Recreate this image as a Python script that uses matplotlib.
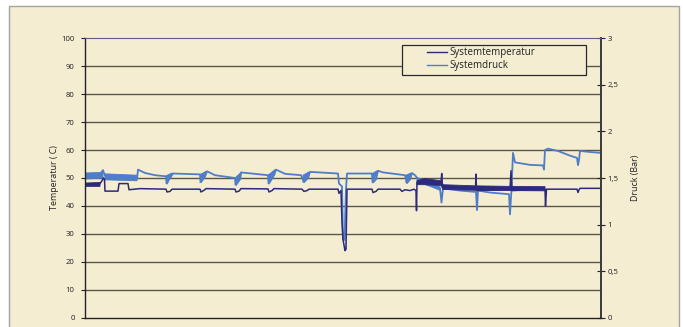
import numpy as np
import matplotlib
matplotlib.use("Agg")
import matplotlib.pyplot as plt
from matplotlib.patches import Rectangle

nan = np.nan

# Messzeit (laufende Messpunkte)
zeit_temp = [0, 14, 15, 17, 18.5, 19.5, 20, 33, 34, 43, 44, 55, 81, 82, 85, 87,
             115, 116, 119, 121, 150, 151, 154, 156, 183, 184, 187, 189,
             217, 219, 222, 224, 253, 254, 256, 257, 258, 260, 261, 262,
             287, 288, 291, 293, 315, 317, 320, 325, 329, 331, 331.5, 332,
             356, 356.7, 357.5, 390.5, 391, 391.5, 425, 426, 427,
             460, 460.5, 461.5, 492, 493, 494, 495, 516]
# Systemtemperatur in °C
temperatur = [47.5, 47.5, 48.0, 49.0, 50.0, 49.5, 45.3, 45.3, 48.0, 48.0, 45.8, 46.2,
              46.0, 45.0, 45.2, 46.0,
              46.0, 45.0, 45.6, 46.2, 46.0, 45.0, 45.3, 46.2, 46.1, 45.0, 45.5, 46.2,
              46.0, 45.2, 45.5, 46.0, 46.0, 44.5, 45.5, 34.0, 28.0, 24.0, 24.5, 46.0,
              46.0, 44.8, 45.2, 46.0, 46.0, 45.2, 45.8, 45.5, 46.0, 45.5, 38.3, 48.5,
              48.3, 51.6, 47.0, 46.3, 51.4, 45.5, 46.0, 52.6, 45.5,
              46.0, 40.0, 46.0, 46.0, 44.8, 45.8, 46.3, 46.3]

# Streubereich der Temperatur (min/max) in unruhigen Abschnitten
zeit_temp_streu = [0, 15, nan, 332, 340, 356, 358, 390, 425, 460]
temp_streu_min = [47.0, 47.0, nan, 47.6, 47.6, 47.3, 45.9, 45.6, 45.5, 45.4]
temp_streu_max = [48.2, 48.4, nan, 49.0, 49.8, 49.0, 47.6, 47.2, 47.0, 46.9]

zeit_druck = [0, 15, 18, 20, 45, 50, 52, 53, 60, 70, 81, 82, 84, 88,
              115, 116, 120, 122, 130, 150, 151, 155, 156, 183, 184, 189, 191, 200,
              216, 219, 223, 225, 253, 254, 257, 258, 259.5, 261, 262,
              287, 288, 291, 293, 298, 320, 322, 325, 327, 330, 335, 345, 355,
              356.5, 358, 375, 391, 392, 393, 405, 424, 425, 426.5, 428, 430,
              445, 458, 459, 460, 463, 473, 485, 492, 493, 494, 495, 505, 516]
# Systemdruck in bar
druck = [1.536, 1.545, 1.584, 1.524, 1.515, 1.500, 1.488, 1.590, 1.554, 1.530,
         1.518, 1.440, 1.485, 1.548,
         1.539, 1.455, 1.515, 1.572, 1.530, 1.500, 1.425, 1.485, 1.560,
         1.530, 1.440, 1.530, 1.590, 1.545,
         1.530, 1.455, 1.500, 1.566, 1.548, 1.440, 1.410, 0.840, 0.834, 1.380, 1.548,
         1.548, 1.452, 1.485, 1.578, 1.560, 1.530, 1.446, 1.485, 1.554, 1.530,
         1.464, 1.425, 1.390,
         1.236, 1.389, 1.365, 1.350, 1.155, 1.365, 1.344, 1.326, 1.110, 1.380,
         1.770, 1.668,
         1.641, 1.635, 1.590, 1.800, 1.815, 1.790, 1.740, 1.716, 1.638, 1.695,
         1.791, 1.779, 1.770]

# Streubereich des Drucks (min/max) beim Nachspeisen
zeit_druck_streu = [0, 18, nan, 20, 52, nan, 81, 87, nan, 115, 121, nan,
                    150, 156, nan, 183, 190, nan, 218, 224, nan, 287, 292, nan,
                    321, 326, nan, 332, 355]
druck_streu_min = [1.488, 1.500, nan, 1.480, 1.470, nan, 1.440, 1.524, nan,
                   1.449, 1.536, nan, 1.425, 1.515, nan, 1.440, 1.545, nan,
                   1.455, 1.530, nan, 1.452, 1.545, nan, 1.446, 1.515, nan,
                   1.464, 1.368]
druck_streu_max = [1.554, 1.560, nan, 1.545, 1.530, nan, 1.524, 1.554, nan,
                   1.536, 1.572, nan, 1.500, 1.560, nan, 1.530, 1.590, nan,
                   1.530, 1.566, nan, 1.545, 1.578, nan, 1.530, 1.554, nan,
                   1.506, 1.404]

temp_ticks = [0, 10, 20, 30, 40, 50, 60, 70, 80, 90, 100]
druck_ticks = [0, 0.5, 1, 1.5, 2, 2.5, 3]
druck_labels = ["0", "0,5", "1", "1,5", "2", "2,5", "3"]

FARBE_TEMP = "#2c2a7c"
FARBE_DRUCK = "#4f7dc8"
CREME = "#f4edd2"
GRID = "#5a564a"

plt.rcParams["font.family"] = ["Open Sans", "DejaVu Sans"]

W, H = 683, 327
fig = plt.figure(figsize=(W / 100, H / 100), dpi=100)
fig.patch.set_facecolor("white")

# Hintergrundtafel
fig.patches.append(Rectangle((9 / W, -0.05), 670 / W, 1.05 - 6 / H,
                             transform=fig.transFigure, facecolor=CREME,
                             edgecolor="#a3a3a3", linewidth=1.0, zorder=-5))

left, right = 85 / W, 601 / W
bottom, top = 1 - 317.7 / H, 1 - 38.3 / H
ax2 = fig.add_axes([left, bottom, right - left, top - bottom])
ax = ax2.twinx()
ax2.set_zorder(1)
ax.set_zorder(2)
ax.patch.set_visible(False)

# Druckachse unten (mit Gitter), Temperaturachse darüber
ax2.set_facecolor(CREME)
ax2.set_ylim(0, 3)
ax2.set_xlim(0, 516)
for v in temp_ticks[1:-1]:
    ax2.axhline(v * 0.03, color=GRID, lw=1.0, zorder=0.5)
ax2.fill_between(zeit_druck_streu, druck_streu_min, druck_streu_max,
                 color=FARBE_DRUCK, lw=0.6, zorder=2)
l_druck, = ax2.plot(zeit_druck, druck, color=FARBE_DRUCK, lw=1.3,
                    label="Systemdruck", zorder=2)

ax.set_ylim(0, 100)
ax.set_xlim(0, 516)
ax.fill_between(zeit_temp_streu, temp_streu_min, temp_streu_max,
                color=FARBE_TEMP, lw=0.6, zorder=2)
l_temp, = ax.plot(zeit_temp, temperatur, color=FARBE_TEMP, lw=1.1,
                  label="Systemtemperatur", zorder=2)

# Achsen: Temperatur links, Druck rechts
ax.yaxis.set_label_position("left")
ax.yaxis.tick_left()
ax2.yaxis.set_label_position("right")
ax2.yaxis.tick_right()

ax.set_yticks(temp_ticks)
ax.set_yticklabels([str(v) for v in temp_ticks])
ax.tick_params(axis="y", direction="out", length=3, width=0.8, pad=4.5,
               labelsize=5.6, colors="#222222")
ax2.set_yticks(druck_ticks)
ax2.set_yticklabels(druck_labels)
ax2.tick_params(axis="y", direction="inout", length=6, width=0.8, pad=1.5,
                labelsize=5.6, colors="#222222")
for a in (ax, ax2):
    a.set_xticks([])

for a in (ax, ax2):
    for s in a.spines.values():
        s.set_visible(False)
ax.spines["left"].set_visible(True)
ax.spines["left"].set_color("#222222")
ax.spines["left"].set_linewidth(1.0)
ax.spines["bottom"].set_visible(True)
ax.spines["bottom"].set_color("#222222")
ax.spines["bottom"].set_linewidth(1.0)
ax.spines["top"].set_visible(True)
ax.spines["top"].set_color("#5a5f8a")
ax.spines["top"].set_linewidth(0.8)
ax.spines["right"].set_visible(True)
ax.spines["right"].set_color("#3a3a3a")
ax.spines["right"].set_linewidth(1.4)

ax.set_ylabel("Temperatur ( C)", fontsize=6.4, color="#222222", labelpad=2)
ax2.set_ylabel("Druck (Bar)", fontsize=6.4, color="#222222", labelpad=9)

# Legende
ax.add_patch(Rectangle((0.6143, 0.8677), 0.3566, 0.1084, transform=ax.transAxes,
                       facecolor=CREME, edgecolor="#2a2a2a", lw=0.9, zorder=4.5))
leg = ax.legend(handles=[l_temp, l_druck], loc="upper left",
                bbox_to_anchor=(0.6628, 0.969), borderaxespad=0, borderpad=0,
                frameon=False, fontsize=7, handlelength=2.06,
                handletextpad=0.3, labelspacing=0.2)
leg.set_zorder(5)
for h in leg.get_lines():
    h.set_linewidth(1.0)
for txt in leg.get_texts():
    txt.set_color("#222222")

fig.savefig("out.png", dpi=100, facecolor="white")
